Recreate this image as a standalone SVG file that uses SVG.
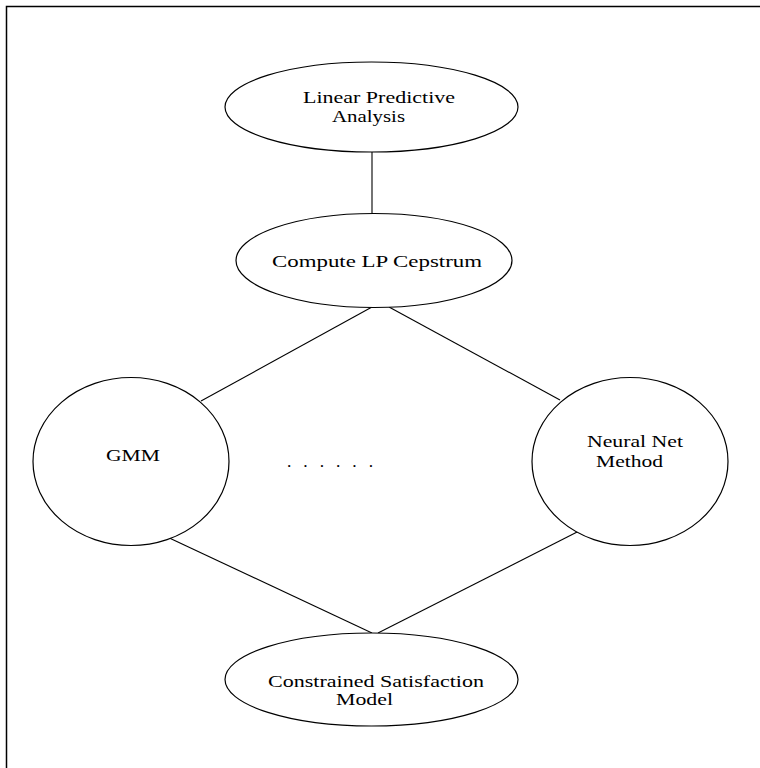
<svg xmlns="http://www.w3.org/2000/svg" width="760" height="768" viewBox="0 0 760 768">
<style>
.n{fill:#fff;stroke:#000;stroke-width:1.2}
.t{font-family:"Liberation Serif","Times New Roman",serif;font-size:17.5px;fill:#000}
.c{stroke:#000;stroke-width:1.1;fill:none}
</style>
<rect width="760" height="768" fill="#fff"/>
<path d="M6.5,768 V6.5 H760" fill="none" stroke="#000" stroke-width="1.5"/>
<g id="connectors">
<line class="c" x1="372" y1="152" x2="372" y2="213"/>
<line class="c" x1="372" y1="307" x2="201" y2="401"/>
<line class="c" x1="389" y1="307" x2="560" y2="400"/>
<line class="c" x1="148" y1="528" x2="372" y2="633"/>
<line class="c" x1="585" y1="528" x2="378" y2="633"/>
</g>
<g id="lpa">
<ellipse class="n" cx="371.5" cy="107" rx="146.5" ry="45"/>
<text class="t" x="303" y="103" textLength="152" lengthAdjust="spacingAndGlyphs">Linear Predictive</text>
<text class="t" x="332" y="121.5" textLength="73" lengthAdjust="spacingAndGlyphs">Analysis</text>
</g>
<g id="cepstrum">
<ellipse class="n" cx="374" cy="260.5" rx="138" ry="47"/>
<text class="t" x="272" y="267" textLength="210" lengthAdjust="spacingAndGlyphs">Compute LP Cepstrum</text>
</g>
<g id="gmm">
<ellipse class="n" cx="131" cy="461.5" rx="98" ry="84"/>
<text class="t" x="106" y="461" textLength="54" lengthAdjust="spacingAndGlyphs">GMM</text>
</g>
<g id="neural">
<ellipse class="n" cx="630" cy="461.5" rx="98" ry="84"/>
<text class="t" x="587" y="447" textLength="96" lengthAdjust="spacingAndGlyphs">Neural Net</text>
<text class="t" x="596" y="467" textLength="67" lengthAdjust="spacingAndGlyphs">Method</text>
</g>
<g id="dots">
<text class="t" x="287" y="467" textLength="86" lengthAdjust="spacing">. . . . . .</text>
</g>
<g id="csm">
<ellipse class="n" cx="371.5" cy="679.5" rx="146.5" ry="46.5"/>
<text class="t" x="268" y="686.5" textLength="216" lengthAdjust="spacingAndGlyphs">Constrained Satisfaction</text>
<text class="t" x="336" y="705" textLength="57" lengthAdjust="spacingAndGlyphs">Model</text>
</g>
</svg>
